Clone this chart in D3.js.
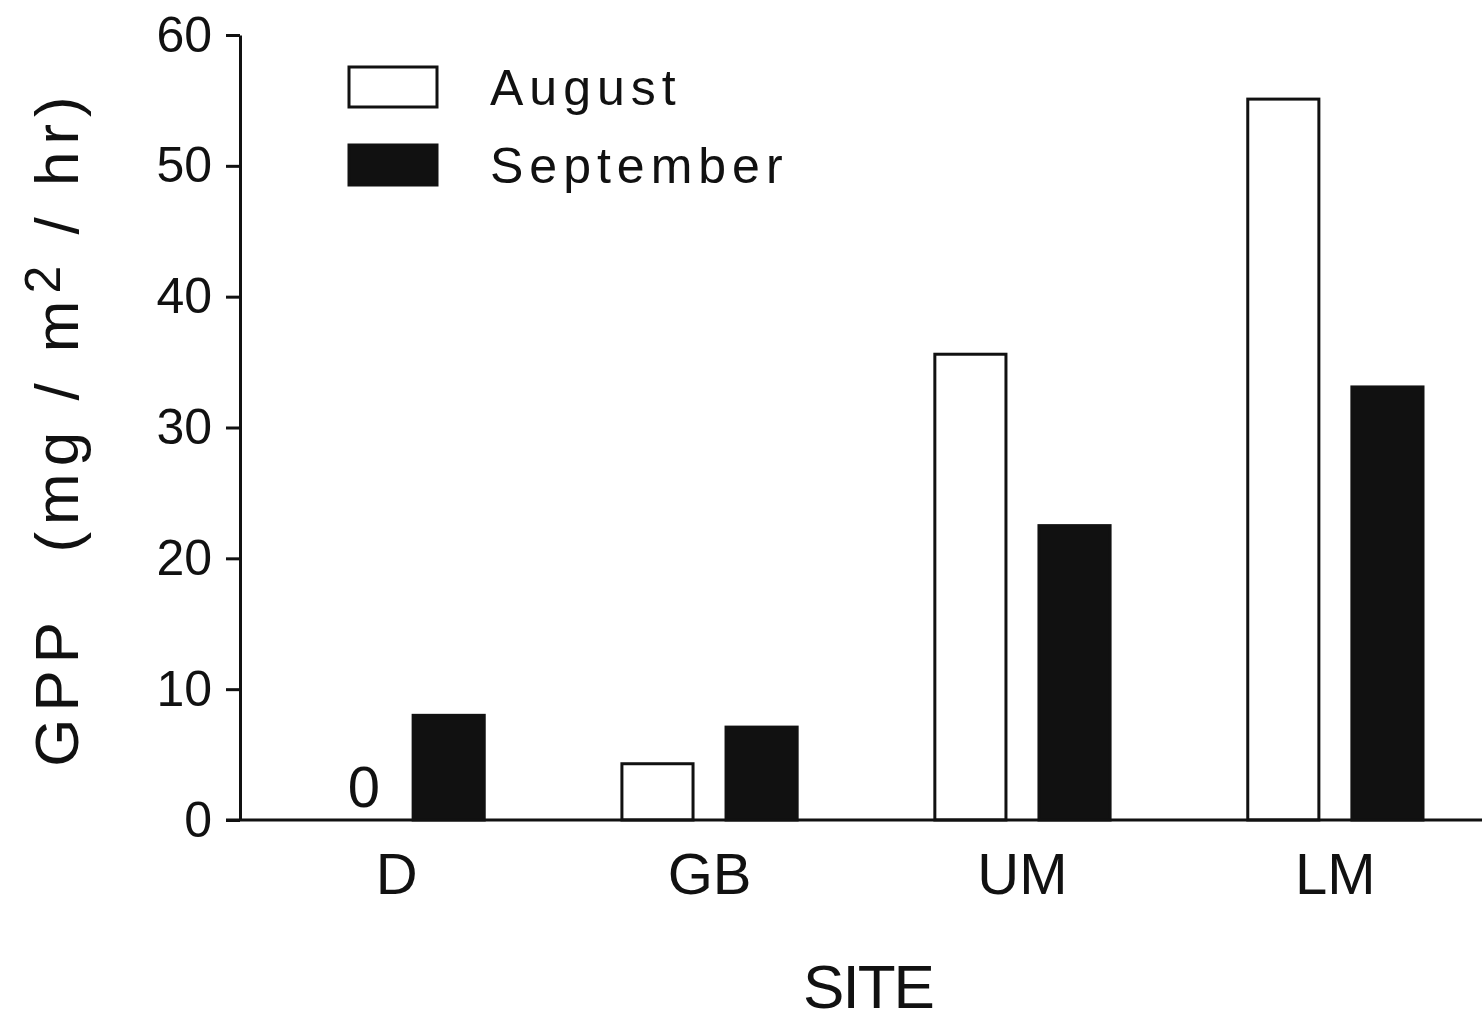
<!DOCTYPE html>
<html>
<head>
<meta charset="utf-8">
<script src="https://cdn.jsdelivr.net/npm/d3@7"></script>
<style>
  html, body { margin: 0; padding: 0; background: #fff; }
  svg { display: block; }
  text { font-family: "Liberation Sans", Arial, sans-serif; fill: #111; }
</style>
</head>
<body>
<svg id="chart" width="1482" height="1026"></svg>
<script>
// GPP by site, two sampling months
const sites = ["D", "GB", "UM", "LM"];
const months = ["August", "September"];
const august = [0, 4.3, 35.6, 55.1];
const september = [8.0, 7.1, 22.5, 33.1];
const yTicks = [0, 10, 20, 30, 40, 50, 60];

const rows = sites.map((s, i) => ({ site: s, August: august[i], September: september[i] }));

const svg = d3.select("#chart");
const ink = "#111";

const y = d3.scaleLinear().domain([0, 60]).range([820, 35]);
const x0 = d3.scaleBand().domain(sites).range([309, 1423]).paddingInner(0.44).paddingOuter(0);
const x1 = d3.scaleBand().domain(months).range([0, x0.bandwidth()]).paddingInner(0.317);
const fill = d3.scaleOrdinal().domain(months).range(["#fff", ink]);

// bars
const groups = svg.append("g").selectAll("g").data(rows).join("g")
  .attr("transform", d => `translate(${x0(d.site)},0)`);

groups.selectAll("rect").data(d => months.map(m => ({ m, v: d[m] })).filter(e => e.v > 0))
  .join("rect")
  .attr("x", e => x1(e.m))
  .attr("width", x1.bandwidth())
  .attr("y", e => y(e.v))
  .attr("height", e => y(0) - y(e.v))
  .attr("fill", e => fill(e.m))
  .attr("stroke", ink)
  .attr("stroke-width", 3);

// zero-value markers
groups.filter(d => d.August === 0).append("text")
  .attr("x", x1("August") + x1.bandwidth())
  .attr("y", y(0) - 13)
  .attr("text-anchor", "end")
  .style("font-size", "58px")
  .text("0");

// y axis
const yAxis = svg.append("g").attr("transform", "translate(240,0)")
  .call(d3.axisLeft(y).tickValues(yTicks).tickSize(14).tickSizeOuter(0).tickPadding(14));
yAxis.select(".domain").attr("stroke", ink).attr("stroke-width", 3);
yAxis.selectAll(".tick line").attr("stroke", ink).attr("stroke-width", 3);
yAxis.selectAll(".tick text").style("font-size", "50px").attr("fill", ink)
  .style("font-family", "'Liberation Sans', Arial, sans-serif");

// x axis baseline
svg.append("line")
  .attr("x1", 226).attr("x2", 1482)
  .attr("y1", y(0)).attr("y2", y(0))
  .attr("stroke", ink).attr("stroke-width", 3);

// site labels
svg.append("g").selectAll("text").data(sites).join("text")
  .attr("x", d => x0(d) + x0.bandwidth() / 2)
  .attr("y", 894)
  .attr("text-anchor", "middle")
  .style("font-size", "58px")
  .text(d => d);

// axis titles
svg.append("text")
  .attr("x", 868).attr("y", 1008)
  .attr("text-anchor", "middle")
  .style("font-size", "62px")
  .style("letter-spacing", "-2px")
  .text("SITE");

const yt = svg.append("text")
  .attr("transform", "translate(78,428) rotate(-90)")
  .attr("text-anchor", "middle")
  .style("font-size", "62px")
  .style("letter-spacing", "7px");
yt.append("tspan").text("GPP\u2002 (mg / m");
yt.append("tspan").attr("dy", -18).style("font-size", "50px").text("2");
yt.append("tspan").attr("dy", 18).text(" / hr)");

// legend
const legend = svg.append("g").selectAll("g").data(months).join("g")
  .attr("transform", (d, i) => `translate(349,${67 + i * 78})`);
legend.append("rect")
  .attr("width", 88).attr("height", 40)
  .attr("fill", d => fill(d))
  .attr("stroke", ink).attr("stroke-width", 3);
legend.append("text")
  .attr("x", 141).attr("y", 38)
  .style("font-size", "50px")
  .style("letter-spacing", "6px")
  .text(d => d);
</script>
</body>
</html>
